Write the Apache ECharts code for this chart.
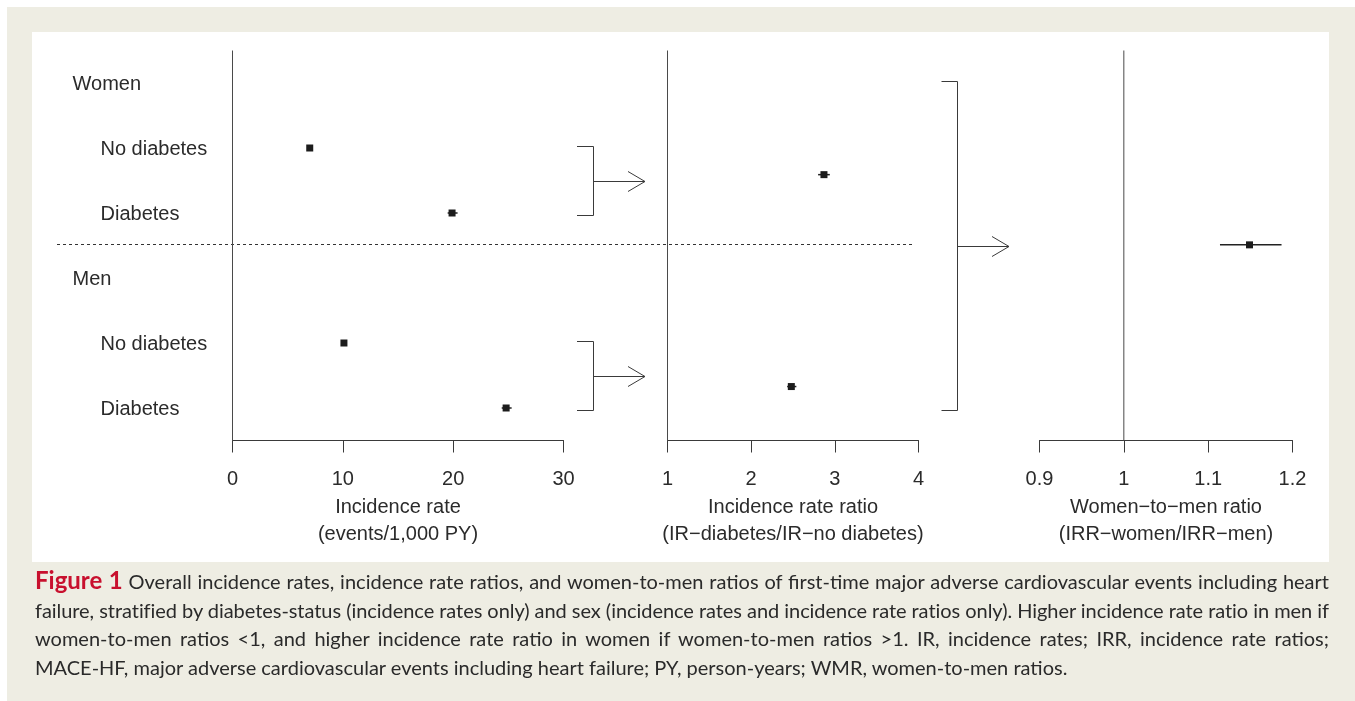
<!DOCTYPE html>
<html>
<head>
<meta charset="utf-8">
<script src="https://cdn.jsdelivr.net/npm/echarts@6/dist/echarts.min.js"></script>
<style>
  html, body { margin: 0; padding: 0; background: #ffffff; width: 1355px; height: 701px; overflow: hidden; }
  #frame { position: absolute; left: 7px; top: 7px; width: 1348px; height: 694px; background: #EEEDE3; }
  #panel { position: absolute; left: 32px; top: 32px; width: 1297px; height: 530px; background: #ffffff; }
  #chart { position: absolute; left: 0; top: 0; width: 1355px; height: 701px; }
  #cap { position: absolute; left: 35px; top: 566px; width: 1294px; font-family: Lato, 'Open Sans', sans-serif;
         font-size: 17px; line-height: 28.7px; color: #2a2a2a; }
  #cap .ln { white-space: nowrap; }
  #cap .ln span { display: inline-block; white-space: nowrap; }
  #cap b { color: #C8102E; font-weight: 700; font-size: 1.2em; }
</style>
</head>
<body>
<div id="frame"></div>
<div id="panel"></div>
<div id="chart"></div>
<div id="cap">
  <div class="ln j"><span><b>Figure 1</b> Overall incidence rates, incidence rate ratios, and women-to-men ratios of first-time major adverse cardiovascular events including heart</span></div>
  <div class="ln j"><span>failure, stratified by diabetes-status (incidence rates only) and sex (incidence rates and incidence rate ratios only). Higher incidence rate ratio in men if</span></div>
  <div class="ln j"><span>women-to-men ratios &lt;1, and higher incidence rate ratio in women if women-to-men ratios &gt;1. IR, incidence rates; IRR, incidence rate ratios;</span></div>
  <div class="ln last"><span>MACE-HF, major adverse cardiovascular events including heart failure; PY, person-years; WMR, women-to-men ratios.</span></div>
</div>
<script>
// ---------- data ----------
const rowLabels = ['Women', 'No diabetes', 'Diabetes', 'Men', 'No diabetes', 'Diabetes'];
const rowRange = [-0.5, 5.5];

const irRows   = [1, 2, 4, 5];
const irValues = [7.0, 19.9, 10.1, 24.8];
const irLower  = [6.8, 19.5, 9.9, 24.4];
const irUpper  = [7.2, 20.4, 10.3, 25.3];

const irrRows   = [1.41, 4.67];
const irrValues = [2.87, 2.48];
const irrLower  = [2.80, 2.43];
const irrUpper  = [2.94, 2.54];

const wmrRows   = [2.49];
const wmrValues = [1.149];
const wmrLower  = [1.114];
const wmrUpper  = [1.187];

const refValues = [0, 1, 1];
const axisMin = [0, 1, 0.9];
const axisMax = [30, 4, 1.2];
const axisInterval = [10, 1, 0.1];
const axisTitles = [
  'Incidence rate\n(events/1,000 PY)',
  'Incidence rate ratio\n(IR\u2212diabetes/IR\u2212no diabetes)',
  'Women\u2212to\u2212men ratio\n(IRR\u2212women/IRR\u2212men)'
];

// ---------- chart ----------
const FONT = "'Liberation Sans', Arial, Helvetica, sans-serif";
const TXT = '#2b2b2b';
const LINE = '#3a3a3a';

const chart = echarts.init(document.getElementById('chart'), null, { renderer: 'canvas' });

const grids = [
  { left: 232.5, top: 50.5, width: 331, height: 390 },
  { left: 667.5, top: 50.5, width: 251, height: 390 },
  { left: 1039.5, top: 50.5, width: 253, height: 390 }
];

const xAxes = [0, 1, 2].map(i => ({
  type: 'value', gridIndex: i, min: axisMin[i], max: axisMax[i], interval: axisInterval[i],
  position: 'bottom',
  axisLine: { show: true, onZero: false, lineStyle: { color: LINE, width: 1 } },
  axisTick: { show: true, inside: false, length: 12, lineStyle: { color: LINE, width: 1 } },
  axisLabel: { show: true, margin: 29, fontSize: 20, color: TXT, fontFamily: FONT },
  splitLine: { show: false },
  name: axisTitles[i], nameLocation: 'middle', nameGap: 43,
  nameTextStyle: { fontSize: 20, lineHeight: 26.5, color: TXT, fontFamily: FONT, align: 'center' }
}));

const yAxes = [0, 1, 2].map(i => ({
  type: 'value', gridIndex: i, min: rowRange[0], max: rowRange[1], inverse: true, show: false
}));
yAxes.push({
  type: 'category', gridIndex: 0, data: rowLabels, inverse: true, position: 'left',
  axisLine: { show: false }, axisTick: { show: false }, splitLine: { show: false },
  axisLabel: {
    margin: 160, align: 'left', fontSize: 20, color: TXT, fontFamily: FONT,
    formatter: (v, idx) => (idx === 0 || idx === 3) ? '{h|' + v + '}' : '{s|' + v + '}',
    rich: {
      h: { fontSize: 20, color: TXT, fontFamily: FONT, padding: [2, 0, 0, 0] },
      s: { fontSize: 20, color: TXT, fontFamily: FONT, padding: [2, 0, 0, 28] }
    }
  }
});

function renderCI(params, api) {
  const v = api.value(0), y = api.value(1), lo = api.value(2), hi = api.value(3);
  const p = api.coord([v, y]);
  const pl = api.coord([lo, y]);
  const ph = api.coord([hi, y]);
  return {
    type: 'group',
    children: [
      { type: 'line', shape: { x1: pl[0], y1: p[1], x2: ph[0], y2: p[1] }, style: { stroke: '#222', lineWidth: 1.5 } },
      { type: 'rect', shape: { x: p[0] - 3.5, y: p[1] - 3.5, width: 7, height: 7 }, style: { fill: '#1c1c1c' } }
    ]
  };
}

function ciData(vals, rows, lo, hi) {
  return vals.map((v, i) => [v, rows[i], lo[i], hi[i]]);
}

const pointSets = [
  ciData(irValues, irRows, irLower, irUpper),
  ciData(irrValues, irrRows, irrLower, irrUpper),
  ciData(wmrValues, wmrRows, wmrLower, wmrUpper)
];

const series = [];
[0, 1, 2].forEach(i => {
  series.push({
    type: 'line', xAxisIndex: i, yAxisIndex: i, silent: true, showSymbol: false, symbol: 'none',
    data: [[refValues[i], rowRange[0]], [refValues[i], rowRange[1]]],
    lineStyle: { color: '#4a4a4a', width: 1 }, animation: false, z: 1
  });
  series.push({
    type: 'custom', xAxisIndex: i, yAxisIndex: i, silent: true,
    renderItem: renderCI, encode: { x: 0, y: 1 }, data: pointSets[i], animation: false, z: 3
  });
});

chart.setOption({
  animation: false,
  backgroundColor: 'transparent',
  textStyle: { fontFamily: FONT },
  grid: grids,
  xAxis: xAxes,
  yAxis: yAxes,
  series: series
});

// ---------- decorations (brackets, arrows, separator) ----------
const yPix = r => chart.convertToPixel({ yAxisIndex: 0 }, r);
const crisp = v => Math.round(v) + 0.5;

function bracketGraphics(x0, x1, rTop, rBot, tipX) {
  const yT = crisp(yPix(rTop) - 2.5);
  const yB = crisp(yPix(rBot) + 2);
  const mid = crisp((yPix(rTop) + yPix(rBot)) / 2);
  const st = { stroke: LINE, lineWidth: 1, fill: null };
  return [
    { type: 'polyline', shape: { points: [[x0, yT], [x1, yT], [x1, yB], [x0, yB]] }, style: st, silent: true },
    { type: 'line', shape: { x1: x1, y1: mid, x2: tipX, y2: mid }, style: st, silent: true },
    { type: 'polyline', shape: { points: [[tipX - 17, mid - 10], [tipX, mid], [tipX - 17, mid + 10]] }, style: st, silent: true }
  ];
}

const sepY = crisp(yPix(2.5) - 1.5);
const graphics = [].concat(
  bracketGraphics(577, 593.5, 1, 2, 645),
  bracketGraphics(577, 593.5, 4, 5, 645),
  bracketGraphics(941.5, 957.5, 0, 5, 1009),
  [{ type: 'line', shape: { x1: 57, y1: sepY, x2: 915, y2: sepY },
     style: { stroke: '#333', lineWidth: 1, lineDash: [3, 3] }, silent: true }]
);
chart.setOption({ graphic: graphics });

// ---------- caption fitting ----------
(function fitCaption() {
  const cap = document.getElementById('cap');
  const last = cap.querySelector('.last span');
  const targetLast = 1033;
  const w0 = last.getBoundingClientRect().width;
  let fs = 17 * targetLast / w0;
  cap.style.fontSize = fs + 'px';
  const full = 1294;
  cap.querySelectorAll('.j span').forEach(sp => {
    let w = sp.getBoundingClientRect().width;
    const spaces = (sp.textContent.match(/ /g) || []).length;
    if (w > full) {
      sp.style.letterSpacing = ((full - w) / sp.textContent.length) + 'px';
      w = sp.getBoundingClientRect().width;
    }
    if (spaces > 0) sp.style.wordSpacing = ((full - w) / spaces) + 'px';
  });
})();
</script>
</body>
</html>
